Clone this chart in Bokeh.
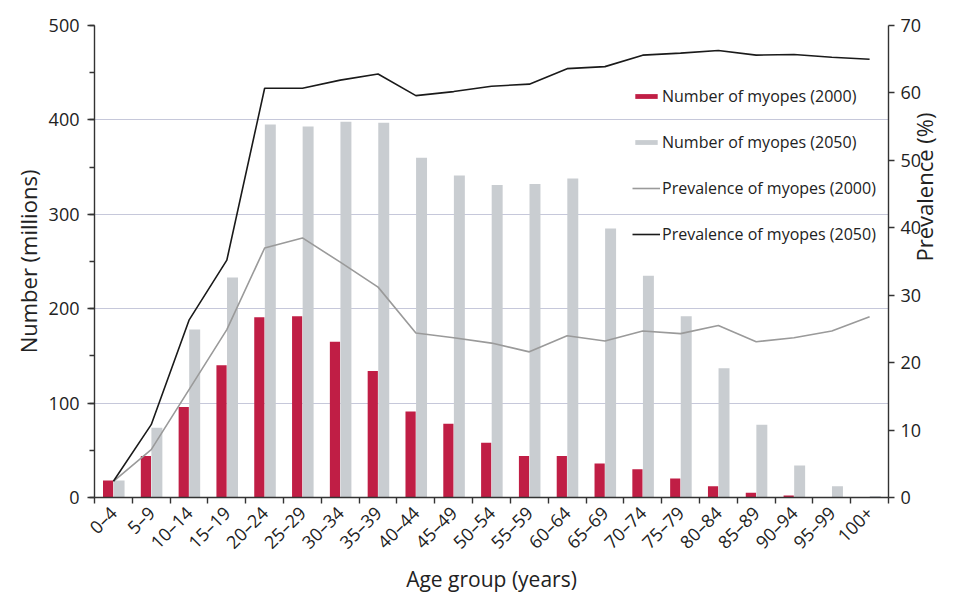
import numpy as np
from bokeh.plotting import figure
from bokeh.models import (Range1d, LinearAxis, FixedTicker, SingleIntervalTicker,
                          ColumnDataSource, Legend, LegendItem)
from bokeh.transform import dodge
from bokeh.embed import file_html
from bokeh.resources import INLINE

age_groups = ["0–4", "5–9", "10–14", "15–19", "20–24", "25–29", "30–34", "35–39",
              "40–44", "45–49", "50–54", "55–59", "60–64", "65–69", "70–74", "75–79",
              "80–84", "85–89", "90–94", "95–99", "100+"]
myopes_2000 = [18, 44, 96, 140, 191, 192, 165, 134, 91, 78, 58, 44, 44, 36, 30, 20,
               12, 5, 2, 0.5, 0.2]
myopes_2050 = [18, 74, 178, 233, 395, 393, 398, 397, 360, 341, 331, 332, 338, 285,
               235, 192, 137, 77, 34, 12, 1.5]
prev_2000 = [2.4, 7.1, 16.0, 24.9, 37.0, 38.5, 34.9, 31.2, 24.4, 23.7, 22.9, 21.6,
             24.0, 23.2, 24.7, 24.3, 25.5, 23.1, 23.7, 24.7, 26.8]
prev_2050 = [2.4, 10.8, 26.3, 35.2, 60.7, 60.7, 61.9, 62.8, 59.6, 60.2, 61.0, 61.3,
             63.6, 63.9, 65.6, 65.9, 66.3, 65.6, 65.7, 65.3, 65.0]
left_ticks_interval = 100
right_ticks_interval = 10

FONT = "Open Sans"
RED = "#c01e45"
GREYBAR = "#c9cdd1"
TXT = "#222222"

x = np.arange(len(age_groups)) + 0.5
src = ColumnDataSource(dict(x=x, age=age_groups, n2000=myopes_2000, n2050=myopes_2050,
                            p2000=prev_2000, p2050=prev_2050))

p = figure(width=964, height=595, output_backend="svg", toolbar_location=None,
           x_range=Range1d(0, len(age_groups)), y_range=Range1d(0, 500),
           min_border_left=94, min_border_right=76, min_border_top=25,
           min_border_bottom=97, outline_line_color=None)
p.extra_y_ranges = {"prev": Range1d(0, 70)}

r1 = p.vbar(x=dodge("x", -0.14), top="n2000", width=0.27, source=src,
            fill_color=RED, line_color=None)
r2 = p.vbar(x=dodge("x", 0.15), top="n2050", width=0.29, source=src,
            fill_color=GREYBAR, line_color=None)
r3 = p.line("x", "p2000", source=src, y_range_name="prev", line_color="#9a9a9a",
            line_width=1.6)
r4 = p.line("x", "p2050", source=src, y_range_name="prev", line_color="#1a1a1a",
            line_width=1.6)

# x axis
xa = p.xaxis[0]
xa.ticker = FixedTicker(ticks=list(x), minor_ticks=list(range(0, len(age_groups) + 1)))
xa.major_label_overrides = {float(xi): lab for xi, lab in zip(x, age_groups)}
xa.major_label_orientation = np.pi / 4
xa.major_tick_out = 0
xa.major_tick_in = 0
xa.minor_tick_out = 6
xa.minor_tick_in = 0
xa.major_label_standoff = 6
xa.axis_label = "Age group (years)"
xa.axis_label_standoff = 0

# left axis
ya = p.yaxis[0]
ya.ticker = SingleIntervalTicker(interval=left_ticks_interval, num_minor_ticks=2)
ya.axis_label = "Number (millions)"
ya.major_tick_out = 7
ya.major_tick_in = 0
ya.minor_tick_out = 5
ya.minor_tick_in = 0
ya.major_label_standoff = 8
ya.axis_label_standoff = 3

# right axis
ra = LinearAxis(y_range_name="prev",
                ticker=SingleIntervalTicker(interval=right_ticks_interval, num_minor_ticks=0),
                axis_label="Prevalence (%)")
ra.major_tick_out = 6
ra.major_tick_in = 0
ra.minor_tick_out = 0
ra.minor_tick_in = 0
ra.major_label_standoff = 6
ra.axis_label_standoff = 0
try:
    ra.axis_label_orientation = np.pi / 2
except Exception:
    pass
p.add_layout(ra, "right")

for ax in [xa, ya, ra]:
    ax.axis_line_color = "#333333"
    ax.axis_line_width = 1.4
    ax.major_tick_line_color = "#333333"
    ax.minor_tick_line_color = "#333333"
    ax.major_tick_line_width = 1.4
    ax.minor_tick_line_width = 1.4
    ax.major_label_text_font = FONT
    ax.major_label_text_font_size = "18px"
    ax.major_label_text_color = TXT
    ax.axis_label_text_font = FONT
    ax.axis_label_text_font_size = "22px"
    ax.axis_label_text_font_style = "normal"
    ax.axis_label_text_color = TXT
xa.major_label_text_font_size = "18px"
xa.axis_label_text_font_size = "21px"

p.xgrid.visible = False
p.ygrid.ticker = FixedTicker(ticks=[100, 200, 300, 400])
p.ygrid.grid_line_color = "#c6c8da"
p.ygrid.grid_line_width = 1.2

legend = Legend(items=[
    LegendItem(label="Number of myopes (2000)", renderers=[r1]),
    LegendItem(label="Number of myopes (2050)", renderers=[r2]),
    LegendItem(label="Prevalence of myopes (2000)", renderers=[r3]),
    LegendItem(label="Prevalence of myopes (2050)", renderers=[r4]),
], location=(538, 252))
legend.border_line_color = None
legend.background_fill_alpha = 0
legend.padding = 0
legend.margin = 0
legend.spacing = 24
legend.label_height = 18
legend.glyph_height = 6
legend.glyph_width = 28
legend.label_standoff = 2
legend.label_text_font = FONT
legend.label_text_font_size = "16px"
legend.label_text_color = TXT
p.add_layout(legend)

open("out.html", "w").write(file_html(p, INLINE))
